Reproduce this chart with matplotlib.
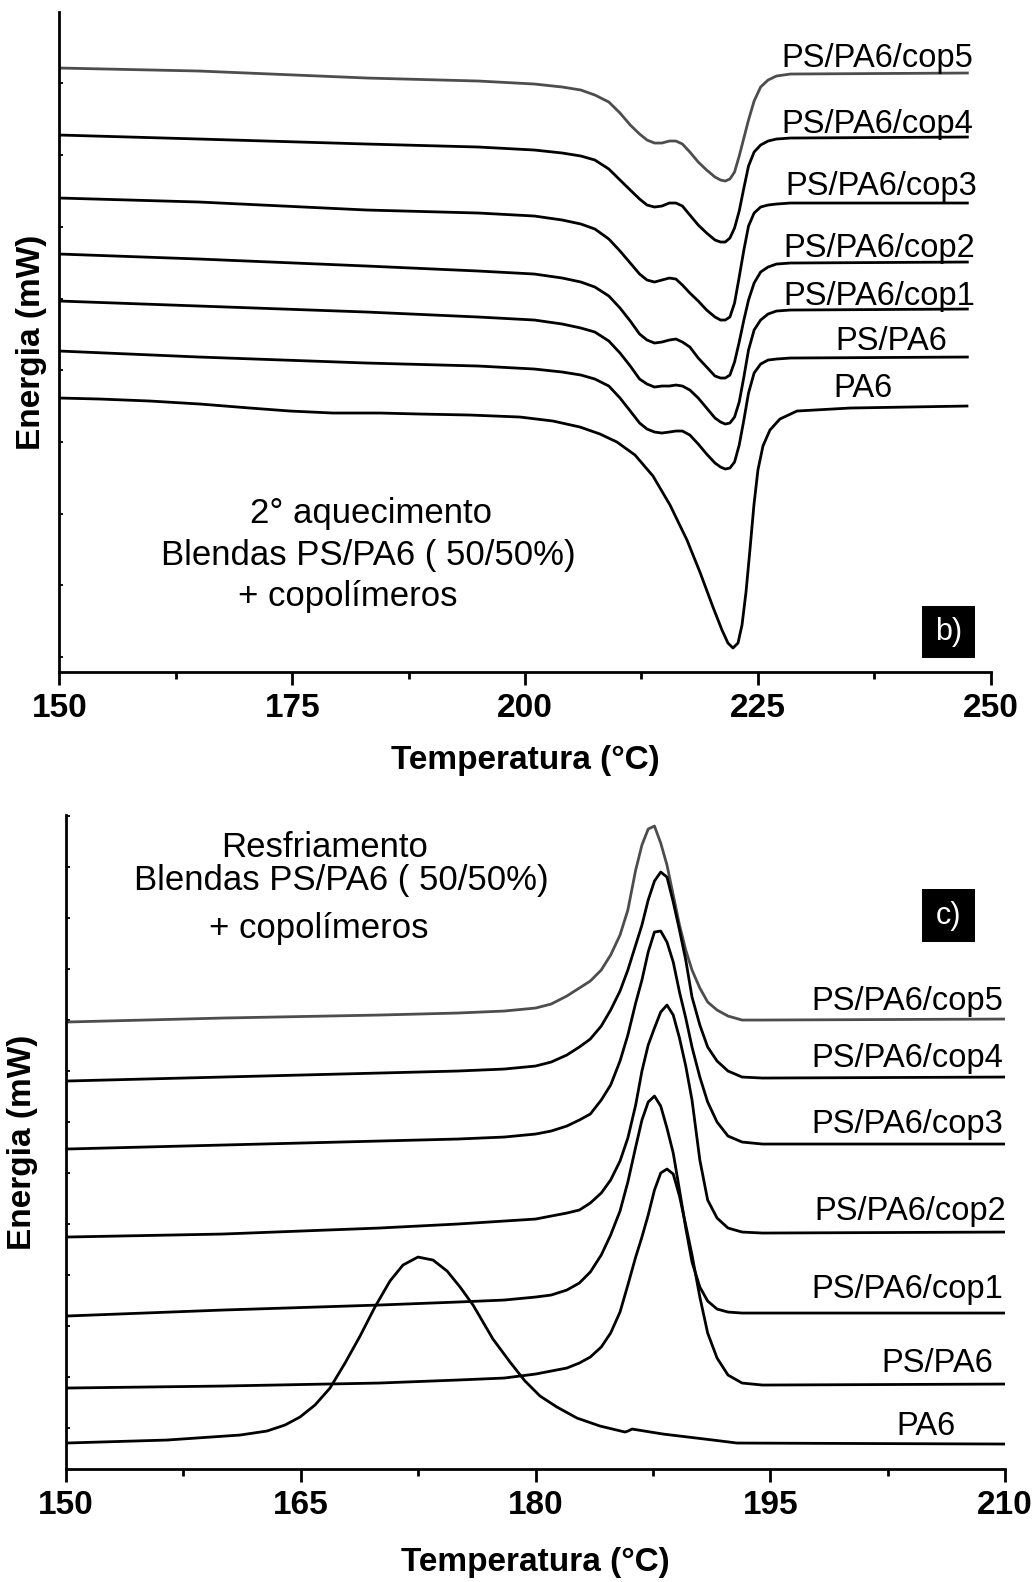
import matplotlib
matplotlib.use('Agg')
import matplotlib.pyplot as plt
from matplotlib.patches import Rectangle
from matplotlib.ticker import MultipleLocator, FixedLocator

plt.rcParams['font.family'] = ['Liberation Sans', 'DejaVu Sans']

# ---- b) 2o aquecimento (temperature grid shared by the blends) ----
T_heat = [150.0, 165.0, 183.0, 195.0, 201.0, 204.0, 206.0, 207.5, 209.0, 210.2, 211.3, 212.3,
          213.1, 213.9, 214.7, 215.5, 216.2, 216.9, 217.7, 218.6, 219.5, 220.4, 221.0, 221.5,
          222.0, 222.5, 223.0, 223.5, 224.0, 224.6, 225.3, 226.1, 227.0, 228.5, 247.5]
heat_cop5 = [60.4, 60.1, 59.4, 59.1, 58.8, 58.5, 58.2, 57.7, 57.0, 55.9, 54.7, 53.8,
             53.2, 52.9, 52.9, 53.1, 53.1, 52.8, 52.0, 51.0, 50.2, 49.5, 49.2, 49.1,
             49.3, 50.0, 51.6, 53.4, 55.2, 57.1, 58.5, 59.2, 59.6, 59.8, 59.9]
heat_cop4 = [53.7, 53.3, 52.8, 52.5, 52.2, 51.9, 51.6, 51.2, 50.3, 49.2, 48.2, 47.3,
             46.7, 46.5, 46.6, 46.9, 46.9, 46.6, 45.7, 44.7, 43.9, 43.2, 43.0, 43.0,
             43.4, 44.4, 46.1, 48.4, 50.6, 52.0, 52.7, 53.1, 53.3, 53.4, 53.5]
heat_cop3 = [47.4, 47.0, 46.2, 45.9, 45.6, 45.2, 44.8, 44.3, 43.3, 42.1, 40.9, 39.8,
             39.2, 39.0, 39.2, 39.4, 39.3, 38.7, 37.9, 37.1, 36.2, 35.5, 35.2, 35.2,
             35.5, 36.9, 39.5, 42.2, 44.6, 45.9, 46.5, 46.7, 46.8, 46.9, 46.9]
heat_cop2 = [41.8, 41.3, 40.6, 40.1, 39.8, 39.4, 39.0, 38.5, 37.6, 36.4, 35.1, 33.8,
             33.2, 32.9, 33.0, 33.2, 33.3, 33.0, 32.5, 31.4, 30.5, 29.6, 29.4, 29.4,
             29.7, 31.0, 33.0, 35.2, 37.2, 38.9, 40.0, 40.5, 40.8, 40.9, 41.0]
heat_cop1 = [37.1, 36.6, 36.0, 35.5, 35.2, 34.8, 34.4, 34.0, 33.1, 31.9, 30.6, 29.3,
             28.8, 28.5, 28.6, 28.6, 28.7, 28.6, 28.2, 27.4, 26.4, 25.4, 25.0, 24.8,
             24.9, 25.5, 27.0, 29.5, 32.2, 34.2, 35.2, 35.8, 36.1, 36.2, 36.3]
heat_pspa6 = [32.1, 31.5, 30.9, 30.6, 30.3, 30.0, 29.7, 29.3, 28.6, 27.4, 26.1, 24.9,
              24.3, 24.0, 23.9, 24.0, 24.1, 24.1, 23.7, 22.8, 21.8, 20.9, 20.5, 20.3,
              20.4, 21.0, 22.7, 25.2, 27.9, 29.9, 30.8, 31.2, 31.3, 31.4, 31.5]
T_heat_pa6 = [150.0, 154.35, 159.72, 165.09, 170.46, 174.75, 179.37, 184.42, 188.71, 194.08,
              199.45, 203.0, 205.9, 208.05, 209.87, 211.81, 213.74, 215.57, 217.39, 218.78,
              220.18, 221.15, 221.79, 222.33, 222.87, 223.3, 223.73, 224.15, 224.58, 225.01,
              225.55, 226.3, 227.37, 229.2, 234.89, 247.46]
heat_pa6 = [27.4, 27.3, 27.1, 26.8, 26.4, 26.1, 25.9, 25.9, 25.8, 25.7,
            25.5, 25.1, 24.5, 23.8, 23.0, 21.7, 19.6, 16.7, 13.2, 10.0,
            6.5, 4.2, 2.9, 2.4, 2.9, 4.7, 8.0, 12.2, 16.7, 20.2,
            22.6, 24.2, 25.3, 26.1, 26.4, 26.6]

# ---- c) resfriamento (temperature grid shared by the blends) ----
T_cool = [150.0, 160.0, 170.0, 175.0, 178.0, 180.0, 181.0, 182.0, 182.8, 183.5, 184.2, 184.8,
          185.4, 185.9, 186.4, 186.8, 187.2, 187.6, 188.0, 188.4, 188.8, 189.2, 189.6, 190.0,
          190.5, 191.0, 191.6, 192.3, 193.2, 194.5, 210.0]
cool_cop5 = [44.7, 45.1, 45.4, 45.6, 45.8, 46.1, 46.5, 47.3, 48.1, 48.8, 49.9, 51.4,
             53.4, 55.9, 59.9, 62.4, 64.0, 64.3, 62.6, 60.4, 57.4, 54.4, 51.9, 49.9,
             48.1, 46.7, 45.9, 45.3, 44.9, 44.9, 45.0]
cool_cop4 = [38.8, 39.2, 39.6, 39.8, 40.0, 40.3, 40.7, 41.4, 42.2, 43.0, 44.3, 45.9,
             47.8, 49.9, 52.4, 54.4, 56.9, 58.8, 59.7, 59.2, 56.7, 53.9, 50.9, 47.2,
             44.4, 42.2, 40.8, 39.8, 39.2, 39.1, 39.2]
cool_cop3 = [32.0, 32.4, 32.8, 33.0, 33.2, 33.5, 33.8, 34.3, 34.9, 35.5, 36.9, 38.4,
             40.8, 43.4, 46.6, 48.9, 51.7, 53.7, 53.8, 52.7, 50.7, 47.7, 45.1, 42.2,
             39.2, 36.7, 34.7, 33.3, 32.7, 32.5, 32.5]
cool_cop2 = [23.2, 23.5, 24.1, 24.5, 24.8, 25.0, 25.3, 25.6, 25.9, 26.6, 27.6, 28.9,
             30.8, 33.1, 36.4, 39.8, 42.4, 44.1, 45.7, 46.4, 45.4, 43.1, 40.3, 36.9,
             30.9, 26.9, 25.1, 24.1, 23.7, 23.6, 23.7]
cool_cop1 = [15.3, 15.9, 16.4, 16.7, 16.9, 17.2, 17.4, 17.9, 18.6, 19.7, 21.4, 23.4,
             25.8, 28.7, 32.2, 34.9, 36.7, 37.3, 36.3, 34.1, 31.6, 27.9, 24.1, 20.7,
             18.2, 16.8, 16.0, 15.7, 15.6, 15.6, 15.6]
cool_pspa6 = [8.1, 8.3, 8.6, 8.9, 9.1, 9.5, 9.8, 10.1, 10.6, 11.2, 12.2, 13.6,
              15.7, 18.4, 21.2, 23.2, 25.4, 27.9, 29.6, 30.0, 29.5, 27.3, 24.4, 21.4,
              17.2, 13.6, 11.1, 9.4, 8.6, 8.4, 8.5]
T_cool_pa6 = [150.0, 156.45, 161.12, 162.84, 163.99, 164.95, 165.91, 166.87, 167.83, 168.79,
              169.74, 170.7, 171.53, 172.49, 173.45, 174.35, 175.18, 176.01, 177.28, 178.37,
              179.33, 180.29, 181.37, 182.65, 184.12, 185.72, 185.91, 186.17, 188.15, 191.34,
              192.88, 210.0]
cool_pa6 = [2.6, 2.9, 3.4, 3.8, 4.4, 5.2, 6.4, 8.1, 10.6, 13.3,
            16.2, 18.8, 20.4, 21.2, 20.9, 19.8, 18.2, 16.4, 13.0, 10.7,
            8.8, 7.3, 6.2, 5.1, 4.3, 3.7, 3.8, 4.0, 3.5, 2.9,
            2.6, 2.5]

names = ['PS/PA6/cop5', 'PS/PA6/cop4', 'PS/PA6/cop3', 'PS/PA6/cop2', 'PS/PA6/cop1', 'PS/PA6', 'PA6']
colors = ['#4d4d4d', 'k', 'k', 'k', 'k', 'k', 'k']

# label anchors (right edge, baseline)
lab_heat_T = [248.1, 248.1, 248.5, 248.3, 248.4, 245.3, 239.5]
lab_heat_E = [60.5, 53.9, 47.7, 41.5, 36.7, 32.2, 27.5]
lab_cool_T = [209.87, 209.87, 209.87, 210.06, 209.87, 209.23, 206.81]
lab_cool_E = [45.9, 40.2, 33.6, 24.9, 17.1, 9.7, 3.4]

heat_x = [T_heat] * 6 + [T_heat_pa6]
heat_y = [heat_cop5, heat_cop4, heat_cop3, heat_cop2, heat_cop1, heat_pspa6, heat_pa6]
cool_x = [T_cool] * 6 + [T_cool_pa6]
cool_y = [cool_cop5, cool_cop4, cool_cop3, cool_cop2, cool_cop1, cool_pspa6, cool_pa6]

fig = plt.figure(figsize=(10.36, 15.82), dpi=100)
ax1 = fig.add_axes([0.0574, 0.5752, 0.8988, 0.4172])
ax2 = fig.add_axes([0.0637, 0.0714, 0.9064, 0.4134])


def style(ax):
    for s in ['top', 'right']:
        ax.spines[s].set_visible(False)
    for s in ['left', 'bottom']:
        ax.spines[s].set_linewidth(2.0)
    ax.tick_params(axis='x', which='major', direction='out', length=9.4, width=2.0, pad=6,
                   labelsize=24)
    ax.tick_params(axis='x', which='minor', direction='out', length=5, width=2.0)
    ax.tick_params(axis='y', which='both', direction='in', length=3, width=1.3, labelleft=False)
    for lb in ax.get_xticklabels():
        lb.set_fontweight('bold')


# top panel
for x, y, c in zip(heat_x, heat_y, colors):
    ax1.plot(x, y, color=c, lw=2.0, solid_joinstyle='round')
for n, tx, ty in zip(names, lab_heat_T, lab_heat_E):
    ax1.text(tx, ty, n, ha='right', va='baseline', fontsize=23.5)
ax1.set_xlim(150, 250)
ax1.set_ylim(0, 66)
ax1.xaxis.set_major_locator(MultipleLocator(25))
ax1.xaxis.set_minor_locator(MultipleLocator(12.5))
ax1.yaxis.set_major_locator(FixedLocator([1.5 + 7.17 * k for k in range(10)]))
style(ax1)
ax1.text(183.45, 14.9, '2° aquecimento', ha='center', va='baseline', fontsize=25)
ax1.text(183.2, 10.7, 'Blendas PS/PA6 ( 50/50%)', ha='center', va='baseline', fontsize=25)
ax1.text(181.0, 6.6, '+ copolímeros', ha='center', va='baseline', fontsize=25)
ax1.add_patch(Rectangle((242.62, 1.4), 5.69, 5.2, facecolor='k', edgecolor='none'))
ax1.text(245.47, 4.0, 'b)', color='w', ha='center', va='center', fontsize=22)
ax1.set_xlabel('Temperatura (°C)', fontsize=24, fontweight='bold', va='center')
ax1.xaxis.set_label_coords(0.5, -0.1333)
ax1.set_ylabel('Energia (mW)', fontsize=24, fontweight='bold', va='center')
ax1.yaxis.set_label_coords(-0.0295, 0.5)

# bottom panel
for x, y, c in zip(cool_x, cool_y, colors):
    ax2.plot(x, y, color=c, lw=2.0, solid_joinstyle='round')
for n, tx, ty in zip(names, lab_cool_T, lab_cool_E):
    ax2.text(tx, ty, n, ha='right', va='baseline', fontsize=23.5)
ax2.set_xlim(150, 210)
ax2.set_ylim(0, 65.4)
ax2.xaxis.set_major_locator(MultipleLocator(15))
ax2.xaxis.set_minor_locator(MultipleLocator(7.5))
ax2.yaxis.set_major_locator(FixedLocator([4.1 + 5.1 * k for k in range(13)]))
style(ax2)
ax2.text(166.49, 61.2, 'Resfriamento', ha='center', va='baseline', fontsize=25)
ax2.text(167.57, 57.9, 'Blendas PS/PA6 ( 50/50%)', ha='center', va='baseline', fontsize=25)
ax2.text(166.17, 53.1, '+ copolímeros', ha='center', va='baseline', fontsize=25)
ax2.add_patch(Rectangle((204.70, 52.7), 3.38, 5.3, facecolor='k', edgecolor='none'))
ax2.text(206.39, 55.35, 'c)', color='w', ha='center', va='center', fontsize=22)
ax2.set_xlabel('Temperatura (°C)', fontsize=24, fontweight='bold', va='center')
ax2.xaxis.set_label_coords(0.5, -0.1422)
ax2.set_ylabel('Energia (mW)', fontsize=24, fontweight='bold', va='center')
ax2.yaxis.set_label_coords(-0.0458, 0.5)

fig.savefig('out.png', dpi=100)
